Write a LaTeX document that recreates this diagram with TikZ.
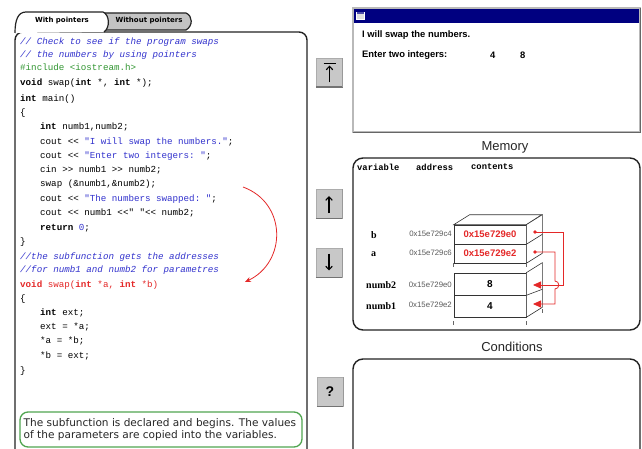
\documentclass[tikz,border=0pt]{standalone}
\usepackage{fontspec}
\setmainfont{Liberation Sans}
\setmonofont{Liberation Mono}
\newfontfamily\dejavu{DejaVu Sans}
\newfontfamily\libserif{Liberation Serif}
\usetikzlibrary{arrows.meta,calc}
\definecolor{cblue}{RGB}{50,50,205}
\definecolor{cgreen}{RGB}{50,150,50}
\definecolor{cred}{RGB}{228,40,40}
\definecolor{navy}{RGB}{0,0,128}
\definecolor{btngray}{RGB}{200,200,200}
\definecolor{tabgray}{RGB}{195,195,195}
\definecolor{frameclr}{RGB}{35,35,35}
\definecolor{notegreen}{RGB}{80,165,80}
\newcommand\kw[1]{\textbf{#1}}
\newcommand\cmt[1]{\textcolor{cblue}{\itshape #1}}
\newcommand\strg[1]{\textcolor{cblue}{#1}}
\tikzset{
  codeln/.style={anchor=base west, inner sep=0pt, font=\ttfamily\fontsize{9.2}{11}\selectfont},
  frameline/.style={draw=frameclr, line width=1.4pt},
  tabline/.style={draw=frameclr, line width=1.2pt},
  tabtext/.style={inner sep=0pt, font=\dejavu\bfseries\fontsize{7}{8}\selectfont},
  btnbox/.style={draw=gray!65, fill=btngray, minimum width=26pt, minimum height=29pt, inner sep=0pt},
  btnarrow/.style={line width=1.1pt, -{Straight Barb[length=3.5pt,width=6.5pt]}},
  outtext/.style={anchor=west, inner sep=0pt, font=\bfseries\fontsize{9.4}{11}\selectfont},
  paneltitle/.style={inner sep=0pt, font=\fontsize{13}{15}\selectfont, text=black!85},
  headtxt/.style={anchor=west, inner sep=0pt, font=\ttfamily\bfseries\fontsize{8.8}{10}\selectfont},
  varname/.style={anchor=west, inner sep=0pt, font=\libserif\bfseries\fontsize{10}{11}\selectfont},
  addrtxt/.style={anchor=east, inner sep=0pt, font=\fontsize{7.8}{9}\selectfont, text=black!65},
  cell/.style={draw=black!80, line width=0.6pt, minimum width=72pt, inner sep=0pt, fill=white},
  ptrtxt/.style={text=cred, font=\bfseries\fontsize{9.5}{11}\selectfont},
  valtxt/.style={font=\bfseries\fontsize{10}{11}\selectfont},
  facel/.style={draw=black!80, line width=0.6pt},
  tickl/.style={draw=black!60, line width=0.5pt},
  redline/.style={draw=cred, line width=0.8pt},
  redtip/.style={-{Triangle[length=8pt,width=7pt]}},
}
\begin{document}
\begin{tikzpicture}[x=1pt,y=-1pt]
\useasboundingbox (0,0) rectangle (642,449);
\fill[white] (0,0) rectangle (642,449);

% ---------- code panel ----------
\draw[frameline, rounded corners=8pt] (15,470) -- (15,32) -- (307,32) -- (307,470);
\draw[tabline, fill=tabgray] (98,13) -- (186,13) .. controls (193,16) and (193,26) .. (186,30) -- (98,30);
\draw[tabline, fill=white] (15,33) .. controls (15,20) and (18,12) .. (26,12) -- (103,12) .. controls (110,15) and (110,28) .. (104,32);
\node[tabtext] (tabwith) at (62,21) {With pointers};
\node[tabtext] (tabwithout) at (149,21) {Without pointers};

\node[codeln] (l1)  at (20,45)  {\cmt{// Check to see if the program swaps}};
\node[codeln] (l2)  at (20,58)  {\cmt{// the numbers by using pointers}};
\node[codeln] (l3)  at (20,71)  {\textcolor{cgreen}{\#include <iostream.h>}};
\node[codeln] (l4)  at (20,86)  {\kw{void} swap(\kw{int} *, \kw{int} *);};
\node[codeln] (l5)  at (20,102) {\kw{int} main()};
\node[codeln] (l6)  at (20,116) {\{};
\node[codeln] (l7)  at (40,130) {\kw{int} numb1,numb2;};
\node[codeln] (l8)  at (40,145) {cout << \strg{"I will swap the numbers."};};
\node[codeln] (l9)  at (40,159) {cout << \strg{"Enter two integers: "};};
\node[codeln] (l10) at (40,173) {cin >> numb1 >> numb2;};
\node[codeln] (l11) at (40,186) {swap (\&numb1,\&numb2);};
\node[codeln] (l12) at (40,201) {cout << \strg{"The numbers swapped: "};};
\node[codeln] (l13) at (40,215) {cout << numb1 <<" "<< numb2;};
\node[codeln] (l14) at (40,230) {\kw{return} \textcolor{cblue}{0};};
\node[codeln] (l15) at (20,244) {\}};
\node[codeln] (l16) at (20,259) {\cmt{//the subfunction gets the addresses}};
\node[codeln] (l17) at (20,272) {\cmt{//for numb1 and numb2 for parametres}};
\node[codeln] (l18) at (20,287) {\textcolor{cred}{\kw{void} swap(\kw{int} *a, \kw{int} *b)}};
\node[codeln] (l19) at (20,301) {\{};
\node[codeln] (l20) at (40,315) {\kw{int} ext;};
\node[codeln] (l21) at (40,329) {ext = *a;};
\node[codeln] (l22) at (40,343) {*a = *b;};
\node[codeln] (l23) at (40,358) {*b = ext;};
\node[codeln] (l24) at (20,373) {\}};

% curved call arrow
\coordinate (callS) at (243,187);
\coordinate (callE) at (245,282);
\draw[draw=cred, line width=0.8pt, -{Stealth[length=6pt,width=5pt]}] (callS) .. controls (287,203) and (287,262) .. (callE);

% note box
\draw[draw=notegreen, line width=1.3pt, rounded corners=8pt] (20,412) rectangle (302,447);
\node[anchor=west, inner sep=0pt, align=left, font=\dejavu\fontsize{10.55}{12.4}\selectfont, text=black!85] (note) at (23.5,429.5)
  {The subfunction is declared and begins. The values\\of the parameters are copied into the variables.};

% ---------- buttons ----------
\node[btnbox] (btop) at (329.5,72.5) {};
\node[btnbox] (bup) at (329,204) {};
\node[btnbox] (bdown) at (329,262.5) {};
\node[btnbox, font=\bfseries\fontsize{14}{16}\selectfont] (bhelp) at (330,391.5) {?};
\foreach \b in {btop,bup,bdown,bhelp}{
  \draw[black!55, line width=1.4pt] (\b.south west) -- (\b.south east);
  \draw[black!40, line width=0.8pt] (\b.south east) -- (\b.north east);
}
\draw[line width=1.1pt] ($(btop.center)+(-6,-9)$) -- ($(btop.center)+(6,-9)$);
\draw[btnarrow] ($(btop.center)+(0,10)$) -- ($(btop.center)+(0,-7)$);
\draw[btnarrow] ($(bup.center)+(0,9)$) -- ($(bup.center)+(0,-8)$);
\draw[btnarrow] ($(bdown.center)+(0,-9)$) -- ($(bdown.center)+(0,8)$);

% ---------- output window ----------
\draw[draw=gray!55, line width=1.2pt] (353,8) rectangle (640,132);
\draw[draw=black!60, line width=1.6pt] (353,132.5) -- (640.5,132.5) -- (640.5,8);
\fill[navy] (354,9) rectangle (639,23);
\draw[draw=white, fill=gray!25, line width=0.5pt] (356,12) rectangle (364,19);
\fill[navy!70] (356.5,12.5) rectangle (363.5,14.5);
\node[outtext] (out1) at (362,35) {I will swap the numbers.};
\node[outtext] (out2) at (362,55) {Enter two integers:};
\node[outtext] (out3) at (490,55) {4};
\node[outtext] (out4) at (520,55) {8};

% ---------- memory ----------
\node[paneltitle] (memtitle) at (505,147) {Memory};
\draw[frameline, rounded corners=10pt] (353,158) rectangle (640,330);
\node[headtxt] (hvar) at (357,167) {variable};
\node[headtxt] (haddr) at (416,167) {address};
\node[headtxt] (hcont) at (471,167) {contents};

% upper stack (pointers)
\node[cell, minimum height=19pt, ptrtxt] (cb) at (490,234.5) {0x15e729e0};
\node[cell, minimum height=19pt, ptrtxt] (ca) at (490,253.5) {0x15e729e2};
\draw[facel, fill=white] (cb.north west) -- ++(16,-10) -- ++(72,0) -- (cb.north east) -- cycle;
\draw[facel, fill=white] (cb.north east) -- ++(16,-10) -- ($(ca.south east)+(16,-10)$) -- (ca.south east) -- cycle;
\draw[facel] (cb.south east) -- ++(16,-10);
% lower stack (values)
\node[cell, minimum height=22pt, valtxt] (cn2) at (490,284) {8};
\node[cell, minimum height=22pt, valtxt] (cn1) at (490,306) {4};
\draw[facel, fill=white] (cn2.north east) -- ++(16,-10) -- ($(cn1.south east)+(16,-10)$) -- (cn1.south east) -- cycle;
\draw[facel] (cn2.south east) -- ++(16,-6);
% ticks
\draw[tickl] (ca.south west) -- ++(0,4);
\draw[tickl] (ca.south east) -- ++(0,4);
\draw[tickl] ($(cn1.south west)+(0,4)$) -- ++(0,4);
\draw[tickl] ($(cn1.south east)+(0,4)$) -- ++(0,4);
\draw[tickl] ($(cn1.south east)+(16,-8)$) -- ++(0,4);

% labels
\node[varname] (vb) at (371,235) {b};
\node[varname] (va) at (371,254) {a};
\node[varname] (vn2) at (366,285) {numb2};
\node[varname] (vn1) at (366,306) {numb1};
\node[addrtxt] (ab) at (452,234) {0x15e729c4};
\node[addrtxt] (aa) at (452,253) {0x15e729c6};
\node[addrtxt] (an2) at (452,285) {0x15e729e0};
\node[addrtxt] (an1) at (452,305) {0x15e729e2};

% pointer connectors
\coordinate (bdot) at (535,232);
\coordinate (adot) at (535,252);
\coordinate (n2tip) at (533,285);
\coordinate (n1tip) at (533,304);
\fill[cred] (bdot) circle (1.8pt);
\fill[cred] (adot) circle (1.8pt);
\draw[redline, redtip] (bdot) -- ++(28,0) |- (n2tip);
\draw[redline, redtip] (adot) -- ++(20,0) -- ++(0,29) .. controls ++(5,0) and ++(5,0) .. ++(0,8) |- (n1tip);

% ---------- conditions ----------
\node[paneltitle] (condtitle) at (512,347) {Conditions};
\draw[frameline, rounded corners=10pt] (353,359) rectangle (640,470);
\end{tikzpicture}
\end{document}
